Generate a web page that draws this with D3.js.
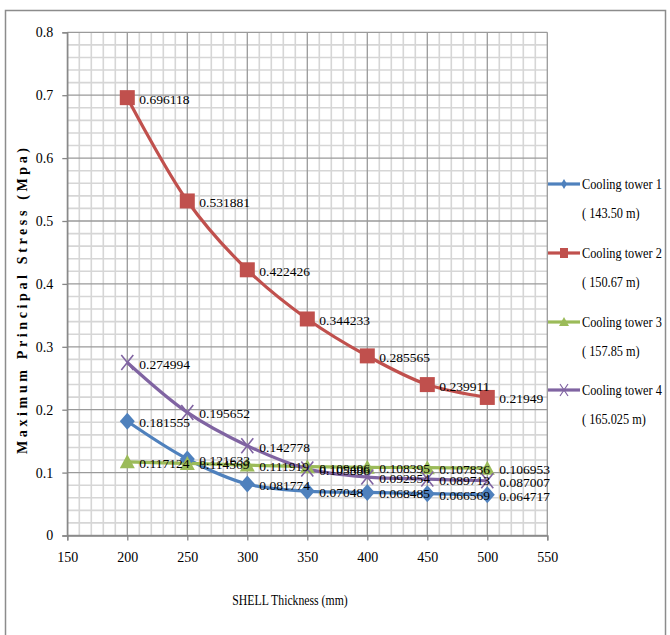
<!DOCTYPE html>
<html>
<head>
<meta charset="utf-8">
<script src="https://cdn.jsdelivr.net/npm/d3@7"></script>
<style>
  html, body { margin: 0; padding: 0; background: #fff; }
  svg { display: block; }
  text { font-family: "Liberation Serif", "Times New Roman", serif; fill: #000; }
</style>
</head>
<body>
<svg id="chart" width="670" height="635"></svg>
<script>
// Shell thickness (mm) for each analysed case
const thickness = [200, 250, 300, 350, 400, 450, 500];

// Maximum principal stress (MPa) per cooling tower
const tower1 = [0.181555, 0.121633, 0.081774, 0.07048, 0.068485, 0.066569, 0.064717];
const tower2 = [0.696118, 0.531881, 0.422426, 0.344233, 0.285565, 0.239911, 0.21949];
const tower3 = [0.117124, 0.114569, 0.111919, 0.109406, 0.108395, 0.107836, 0.106953];
const tower4 = [0.274994, 0.195652, 0.142778, 0.105886, 0.092954, 0.089713, 0.087007];

const seriesNames = ["Cooling tower 1", "Cooling tower 2", "Cooling tower 3", "Cooling tower 4"];
const seriesHeights = ["( 143.50 m)", "( 150.67 m)", "( 157.85 m)", "( 165.025 m)"];
const seriesColors = ["#4F81BD", "#C0504D", "#9BBB59", "#8064A2"];
const seriesSymbols = ["diamond", "square", "triangle", "cross"];

const xTicks = [150, 200, 250, 300, 350, 400, 450, 500, 550];
const yTicks = [0, 0.1, 0.2, 0.3, 0.4, 0.5, 0.6, 0.7, 0.8];

const svg = d3.select("#chart");

// outer chart frame
svg.append("rect")
  .attr("x", 5.5).attr("y", 10.5)
  .attr("width", 660).attr("height", 640)
  .attr("fill", "none").attr("stroke", "#8c8c8c").attr("stroke-width", 1.5);

const x = d3.scaleLinear().domain([150, 550]).range([67.3, 547.3]);
const y = d3.scaleLinear().domain([0, 0.8]).range([535.5, 32.3]);

// grid: minor lines every 10 mm / 0.02 MPa, major at tick values
const grid = svg.append("g");
d3.range(150, 551, 10).filter(v => v % 50 !== 0).forEach(v => {
  grid.append("line").attr("x1", x(v)).attr("x2", x(v)).attr("y1", y(0)).attr("y2", y(0.8))
    .attr("stroke", "#d6d6d6").attr("stroke-width", 1.6);
});
d3.range(0, 41, 1).filter(i => i % 5 !== 0).forEach(i => {
  const v = i * 0.02;
  grid.append("line").attr("x1", x(150)).attr("x2", x(550)).attr("y1", y(v)).attr("y2", y(v))
    .attr("stroke", "#d6d6d6").attr("stroke-width", 1.6);
});
xTicks.forEach(v => {
  grid.append("line").attr("x1", x(v)).attr("x2", x(v)).attr("y1", y(0)).attr("y2", y(0.8))
    .attr("stroke", "#9a9a9a").attr("stroke-width", 1.3);
});
yTicks.forEach(v => {
  grid.append("line").attr("x1", x(150)).attr("x2", x(550)).attr("y1", y(v)).attr("y2", y(v))
    .attr("stroke", "#9a9a9a").attr("stroke-width", 1.3);
});

// axes
const xAxis = svg.append("g").attr("transform", `translate(0,${y(0)})`)
  .call(d3.axisBottom(x).tickValues(xTicks).tickSize(5).tickPadding(12).tickFormat(d3.format("d")));
const yAxis = svg.append("g").attr("transform", `translate(${x(150)},0)`)
  .call(d3.axisLeft(y).tickValues(yTicks).tickSize(5).tickPadding(9).tickFormat(d => d === 0 ? "0" : d3.format(".1f")(d)));
[xAxis, yAxis].forEach(a => {
  a.selectAll("path").attr("stroke", "#868686").attr("stroke-width", 1.3);
  a.selectAll("line").attr("stroke", "#868686").attr("stroke-width", 1.3);
  a.selectAll("text").attr("font-size", 14).attr("font-family", "Liberation Serif").attr("fill", "#222");
});

// axis titles (narrow serif look via horizontal scaling)
svg.append("text")
  .attr("transform", "translate(290,605) scale(0.84,1)")
  .attr("text-anchor", "middle").attr("font-size", 14)
  .text("SHELL Thickness (mm)");

svg.append("text")
  .attr("transform", "translate(27,301) rotate(-90)")
  .attr("text-anchor", "middle").attr("font-size", 14).attr("font-weight", "bold")
  .attr("textLength", 306)
  .text("Maximum Principal Stress (Mpa)");

const allSeries = [tower1, tower2, tower3, tower4];

function drawMarker(g, kind, color, cx, cy) {
  if (kind === "diamond") {
    g.append("path").attr("d", "M0,-8.5L7.5,0L0,8.5L-7.5,0Z")
      .attr("transform", `translate(${cx},${cy})`).attr("fill", color);
  } else if (kind === "square") {
    g.append("rect").attr("x", cx - 7.5).attr("y", cy - 7.5).attr("width", 15).attr("height", 15).attr("fill", color);
  } else if (kind === "triangle") {
    g.append("path").attr("d", "M0,-7.5L7.5,6.5L-7.5,6.5Z")
      .attr("transform", `translate(${cx},${cy})`).attr("fill", color);
  } else {
    g.append("path").attr("d", "M-6,-7.5L6,7.5M6,-7.5L-6,7.5")
      .attr("transform", `translate(${cx},${cy})`).attr("stroke", color).attr("stroke-width", 1.6).attr("fill", "none");
  }
}

const line = d3.line()
  .x((d, i) => x(thickness[i]))
  .y(d => y(d))
  .curve(d3.curveCatmullRom.alpha(0.5));

const plot = svg.append("g");
allSeries.forEach((vals, s) => {
  plot.append("path").datum(vals).attr("d", line)
    .attr("fill", "none").attr("stroke", seriesColors[s]).attr("stroke-width", 3.2);
});
allSeries.forEach((vals, s) => {
  vals.forEach((v, i) => drawMarker(plot, seriesSymbols[s], seriesColors[s], x(thickness[i]), y(v)));
});

// value labels to the right of each point
const labels = svg.append("g");
allSeries.forEach((vals, s) => {
  vals.forEach((v, i) => {
    labels.append("text")
      .attr("x", x(thickness[i]) + 12).attr("y", y(v) + 6)
      .attr("font-size", 13.5)
      .text(String(v));
  });
});

// legend
const legend = svg.append("g");
const legendTop = [184, 253, 322, 390];
seriesNames.forEach((name, s) => {
  const ly = legendTop[s];
  legend.append("line").attr("x1", 548).attr("x2", 580).attr("y1", ly).attr("y2", ly)
    .attr("stroke", seriesColors[s]).attr("stroke-width", 3.2);
  const mg = legend.append("g");
  if (seriesSymbols[s] === "diamond") {
    mg.append("path").attr("d", "M0,-5L3,0L0,5L-3,0Z").attr("transform", `translate(564,${ly})`).attr("fill", seriesColors[s]);
  } else if (seriesSymbols[s] === "square") {
    mg.append("rect").attr("x", 560).attr("y", ly - 5).attr("width", 8).attr("height", 10).attr("fill", seriesColors[s]);
  } else if (seriesSymbols[s] === "triangle") {
    mg.append("path").attr("d", "M0,-5L5,4L-5,4Z").attr("transform", `translate(564,${ly})`).attr("fill", seriesColors[s]);
  } else {
    mg.append("path").attr("d", "M-4,-6L4,6M4,-6L-4,6").attr("transform", `translate(564,${ly})`)
      .attr("stroke", seriesColors[s]).attr("stroke-width", 1.2).attr("fill", "none");
  }
  legend.append("text").attr("transform", `translate(582,${ly + 5}) scale(0.82,1)`)
    .attr("font-size", 15).text(name);
  legend.append("text").attr("transform", `translate(582,${ly + 34}) scale(0.82,1)`)
    .attr("font-size", 15).text(seriesHeights[s]);
});
</script>
</body>
</html>
